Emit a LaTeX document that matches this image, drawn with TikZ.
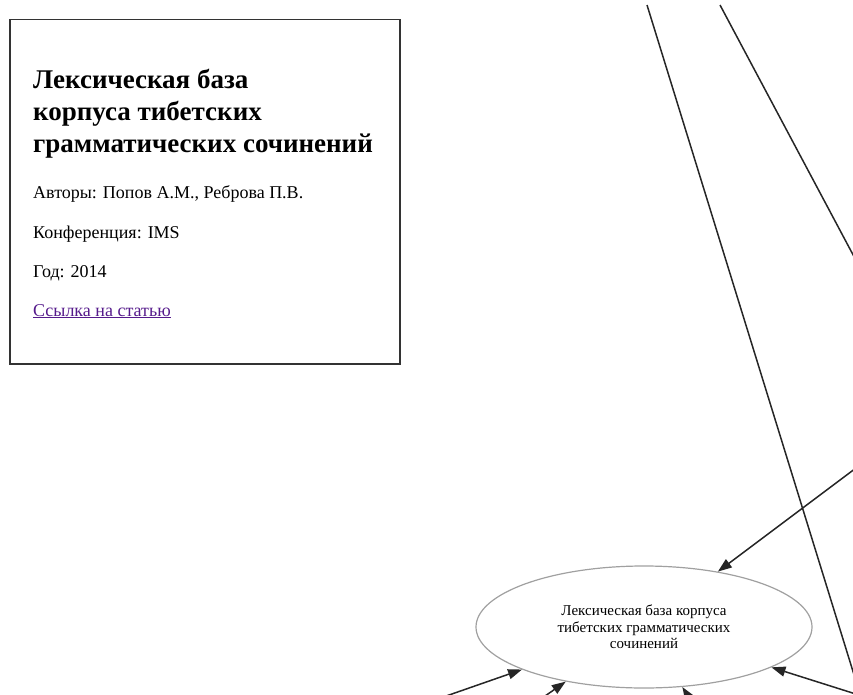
\documentclass[tikz,border=0pt]{standalone}
\usepackage{fontspec}
\setmainfont{Liberation Serif}
\usetikzlibrary{arrows.meta,shapes.geometric}
\definecolor{linkpurple}{HTML}{551A8B}
\definecolor{ellgray}{HTML}{A0A0A0}
\tikzset{
  edge/.style={draw=black!85, line width=1.5pt, -{Triangle[length=14pt,width=10pt]}},
  plainedge/.style={draw=black!85, line width=1.5pt},
  infotext/.style={anchor=base west, inner sep=0pt, font=\fontsize{18}{21}\selectfont},
  titletext/.style={anchor=base west, inner sep=0pt, font=\fontsize{27}{31}\selectfont\bfseries},
  paper/.style={ellipse, draw=ellgray, line width=1.2pt, minimum width=336pt, minimum height=122pt, inner sep=0pt,
    align=center, font=\fontsize{15}{16.5}\selectfont},
  infobox/.style={draw=black!80, line width=1.5pt}
}
\begin{document}
\begin{tikzpicture}[x=1pt,y=-1pt]
\useasboundingbox (0,0) rectangle (853,695);
\clip (0,0) rectangle (853,695);
% info box
\node[infobox, minimum width=390pt, minimum height=344pt, anchor=north west, inner sep=0pt] (box) at (9,19) {};
\node[titletext] (t1) at (33,89) {Лексическая база};
\node[titletext] (t2) at (33,121) {корпуса тибетских};
\node[titletext] (t3) at (33,153) {грамматических сочинений};
\node[infotext] (auth) at (33,198) {Авторы: Попов А.М., Реброва П.В.};
\node[infotext] (conf) at (33,238) {Конференция: IMS};
\node[infotext] (year) at (33,277) {Год: 2014};
\node[infotext, text=linkpurple] (link) at (33,316) {\underline{Ссылка на статью}};
% central node
\node[paper] (lex) at (644,627) {Лексическая база корпуса\\тибетских грамматических\\сочинений};
% free ends
\coordinate (a1) at (647,5);
\coordinate (a2) at (868,720);
\coordinate (b1) at (720,5);
\coordinate (b2) at (900,343);
\coordinate (e1) at (900,435);
\coordinate (e2) at (406,710);
\coordinate (e3) at (525,710);
\coordinate (e4) at (697,710);
\coordinate (e5) at (900,708);
% connectors
\draw[plainedge] (a1) -- (a2);
\draw[plainedge] (b1) -- (b2);
\draw[edge] (e1) -- (lex);
\draw[edge] (e2) -- (lex);
\draw[edge] (e3) -- (lex);
\draw[edge] (e4) -- (lex);
\draw[edge] (e5) -- (lex);
\end{tikzpicture}
\end{document}
